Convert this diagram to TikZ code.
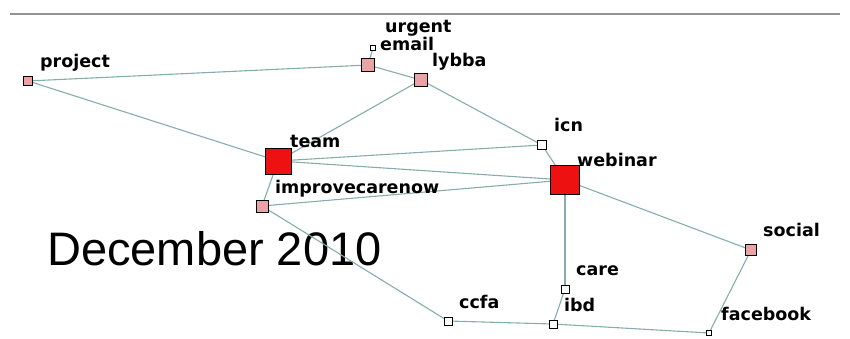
\documentclass[tikz,border=0pt]{standalone}
\usepackage{fontspec}
\setmainfont{DejaVu Sans}
\newfontfamily\captionfont{Liberation Sans}
\usetikzlibrary{backgrounds}
\definecolor{edgecol}{HTML}{86ACAC}
\definecolor{pinkfill}{HTML}{E9A2A6}
\definecolor{redfill}{HTML}{EE1111}
\tikzset{
  sq/.style={draw=black, line width=0.9pt, minimum size=#1, inner sep=0pt, outer sep=0pt},
  lowsq/.style={sq=#1, fill=pinkfill},
  hisq/.style={sq=#1, fill=redfill},
  plainsq/.style={sq=#1, fill=white},
  lbl/.style={anchor=base west, inner sep=0pt, font=\fontsize{17.5}{17.5}\selectfont\bfseries},
  link/.style={draw=edgecol, line width=1.1pt}
}
\begin{document}
\begin{tikzpicture}[x=1pt, y=-1pt]
\useasboundingbox (0,0) rectangle (850,339);
% frame rule along the top
\draw[gray!85, line width=1.6pt] (10,14) -- (840,14);

% nodes
\node[plainsq=5]  (urgent)   at (373,48)  {};
\node[lowsq=13]   (email)    at (368,65)  {};
\node[lowsq=13]   (lybba)    at (421,80)  {};
\node[lowsq=9]    (project)  at (28,81)   {};
\node[plainsq=9]  (icn)      at (542,145) {};
\node[hisq=26]    (team)     at (278,161) {};
\node[hisq=29]    (webinar)  at (565,180) {};
\node[lowsq=12]   (icn2)     at (262,206) {};
\node[lowsq=11]   (social)   at (751,250) {};
\node[plainsq=8]  (care)     at (565,289) {};
\node[plainsq=8]  (ccfa)     at (448,321) {};
\node[plainsq=8]  (ibd)      at (553,324) {};
\node[plainsq=5]  (facebook) at (709,333) {};

% labels
\node[lbl] (lurgent)   at (385,33)  {urgent};
\node[lbl] (lemail)    at (380,51)  {email};
\node[lbl] (llybba)    at (432,67)  {lybba};
\node[lbl] (lproject)  at (40,68)   {project};
\node[lbl] (licn)      at (554,132) {icn};
\node[lbl] (lteam)     at (290,148) {team};
\node[lbl] (lwebinar)  at (577,166) {webinar};
\node[lbl] (limprove)  at (275,193) {improvecarenow};
\node[lbl] (lsocial)   at (763,236) {social};
\node[lbl] (lcare)     at (576,275) {care};
\node[lbl] (lccfa)     at (459,308) {ccfa};
\node[lbl] (libd)      at (564,311) {ibd};
\node[lbl] (lfacebook) at (721,320) {facebook};

% caption sits under the connections
\begin{scope}[on background layer]
\node[anchor=base west, inner sep=0pt, font=\captionfont\fontsize{47}{47}\selectfont] (caption) at (47,265) {December 2010};
\end{scope}

% connections
\begin{scope}[on background layer]
\draw[link] (project) -- (email);
\draw[link] (project) -- (team);
\draw[link] (email) -- (lybba);
\draw[link] (email) -- (urgent);
\draw[link] (lybba) -- (team);
\draw[link] (lybba) -- (icn);
\draw[link] (icn) -- (team);
\draw[link] (icn) -- (webinar);
\draw[link] (team) -- (webinar);
\draw[link] (team) -- (icn2);
\draw[link] (icn2) -- (webinar);
\draw[link] (icn2) -- (ccfa);
\draw[link] (webinar) -- (social);
\draw[link] (webinar) -- (care);
\draw[link] (care) -- (ibd);
\draw[link] (ccfa) -- (ibd);
\draw[link] (ibd) -- (facebook);
\draw[link] (social) -- (facebook);
\end{scope}
\end{tikzpicture}
\end{document}
